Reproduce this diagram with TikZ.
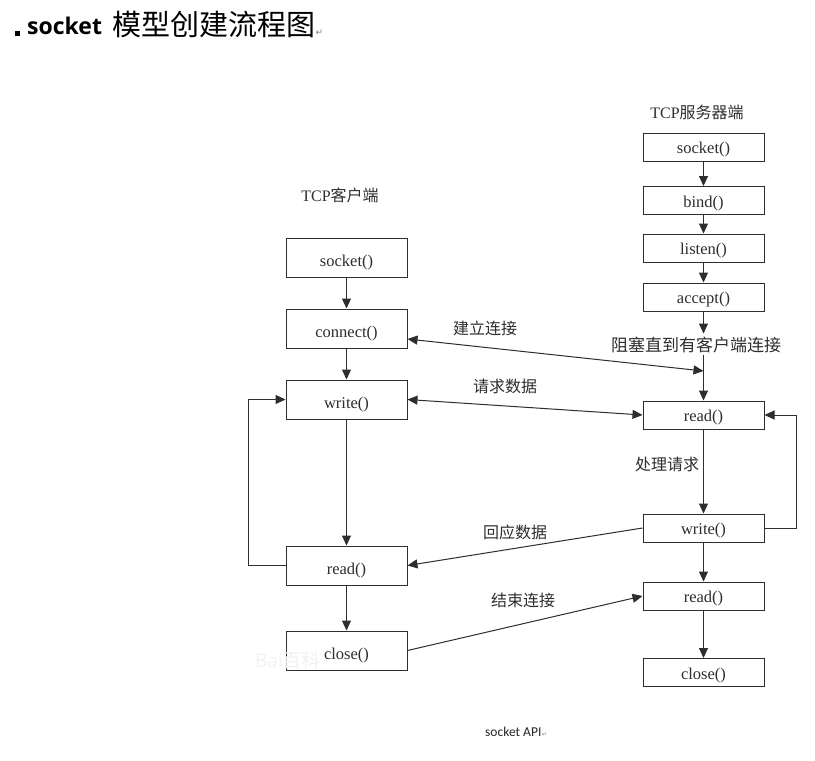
\documentclass[tikz,border=0pt]{standalone}
\usepackage{fontspec}
\setmainfont{Liberation Serif}
\newfontfamily\cjk{Noto Sans CJK SC}
\newfontfamily\titlesans{Open Sans}
\newfontfamily\capsans{Carlito}
\newfontfamily\symfont{DejaVu Sans}
\usetikzlibrary{arrows.meta}
\definecolor{ink}{HTML}{2E2E2E}
\tikzset{
  stepbox/.style={draw=ink, line width=1pt, minimum width=121pt, inner sep=0pt,
    font=\fontsize{16.5}{18}\selectfont, text=ink, text depth=0pt},
  tallbox/.style={stepbox, minimum height=39pt, text height=18pt},
  flatbox/.style={stepbox, minimum height=28pt, text height=13.5pt},
  tip/.tip={Triangle[length=10pt,width=9pt]},
  flow/.style={draw=ink, line width=1pt, -tip},
  both/.style={draw=ink, line width=1pt, tip-tip},
  lbl/.style={text=ink, font=\cjk\fontsize{16}{18}\selectfont, inner sep=0pt},
  head/.style={text=ink, font=\fontsize{16}{18}\selectfont, inner sep=0pt},
}
\begin{document}
\begin{tikzpicture}[x=1pt, y=-1pt]
\useasboundingbox[fill=white] (0,0) rectangle (815,761);

% title line
\fill (15,31) rectangle (20,36);
\node[anchor=base west, inner sep=0pt, font=\titlesans\bfseries\fontsize{23}{26}\selectfont] (ttlA) at (27,34) {socket};
\node[anchor=base west, inner sep=0pt, font=\cjk\fontsize{29}{32}\selectfont] (ttlB) at (112,35) {模型创建流程图};
\node[anchor=base west, inner sep=0pt, text=gray, font=\symfont\fontsize{9}{10}\selectfont] (ttlC) at (ttlB.base east) {↵};

% column headings
\node[head] (chead) at (340,195) {TCP{\cjk 客户端}};
\node[head] (shead) at (697,112) {TCP{\cjk 服务器端}};

% client column
\node[tallbox] (cs) at (346.5,257.5) {socket()};
\node[tallbox] (cc) at (346.5,328.5) {connect()};
\node[tallbox] (cw) at (346.5,399.5) {write()};
\node[tallbox] (cr) at (346.5,565.5) {read()};
\node[tallbox] (cx) at (346.5,650.5) {close()};

% server column
\node[flatbox] (ss) at (703.5,147) {socket()};
\node[flatbox] (sb) at (703.5,200.5) {bind()};
\node[flatbox] (sl) at (703.5,248) {listen()};
\node[flatbox] (sa) at (703.5,297) {accept()};
\node[lbl, font=\cjk\fontsize{17}{19}\selectfont] (block) at (696,345) {阻塞直到有客户端连接};
\node[flatbox] (sr) at (703.5,415) {read()};
\node[flatbox] (sw) at (703.5,528) {write()};
\node[flatbox] (sr2) at (703.5,596) {read()};
\node[flatbox] (sx) at (703.5,672.5) {close()};
\coordinate (join) at (703.5,371);

% client flow
\draw[flow] (cs) -- (cc);
\draw[flow] (cc) -- (cw);
\draw[flow] (cw) -- (cr);
\draw[flow] (cr) -- (cx);
\draw[flow] (cr.west) -- ++(-37,0) |- (cw.west);

% server flow
\draw[flow] (ss) -- (sb);
\draw[flow] (sb) -- (sl);
\draw[flow] (sl) -- (sa);
\draw[flow] (sa.south) -- ++(0,22);
\draw[flow] (sa.south |- 0,355) -- (sr.north);
\draw[flow] (sr) -- (sw);
\draw[flow] (sw) -- (sr2);
\draw[flow] (sr2) -- (sx);
\draw[flow] (sw.east) -- ++(32,0) |- (sr.east);
\node[lbl] (proc) at (667,464) {处理请求};

% exchanges between the two sides
\draw[both] ([yshift=-10.5pt]cc.east) -- (join);
\node[lbl] (l1) at (485,328) {建立连接};
\draw[both] (cw.east) -- (sr.west);
\node[lbl] (l2) at (505,386) {请求数据};
\draw[flow] (sw.west) -- (cr.east);
\node[lbl] (l3) at (515,532) {回应数据};
\draw[flow] (cx.east) -- (sr2.west);
\node[lbl] (l4) at (523,600) {结束连接};

% faint watermark
\node[inner sep=0pt, text=gray!10, font=\titlesans\fontsize{19}{20}\selectfont] (wm) at (288,660) {Bai{\cjk 百科}};

% caption
\node[anchor=base west, inner sep=0pt, text=black!85, font=\capsans\fontsize{13.5}{15}\selectfont] (cap) at (485,736) {socket API};
\node[anchor=base west, inner sep=0pt, text=gray, font=\symfont\fontsize{6}{7}\selectfont] (capr) at (cap.base east) {↵};
\end{tikzpicture}
\end{document}
